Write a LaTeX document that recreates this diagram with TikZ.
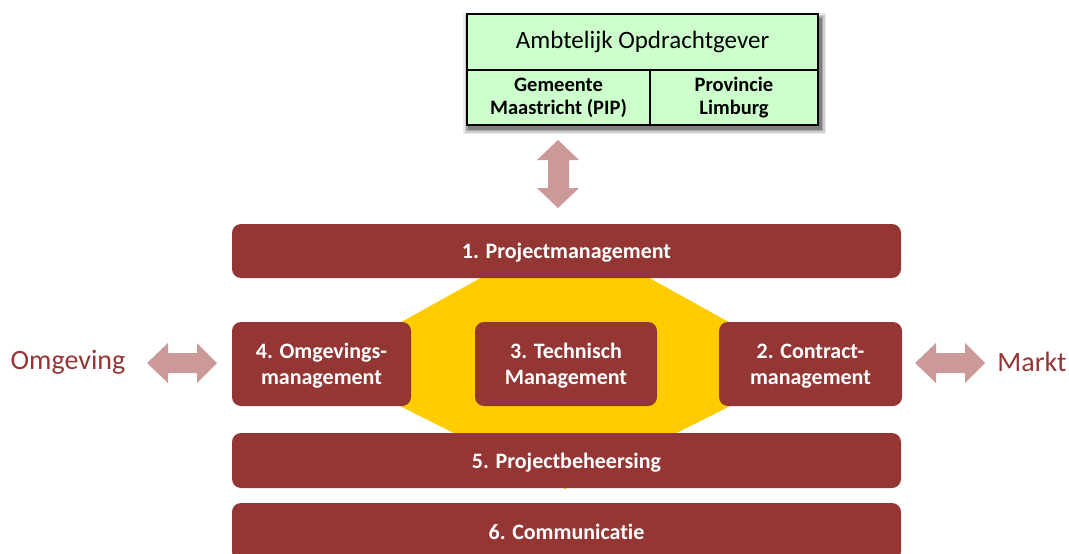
\documentclass[tikz,border=0pt]{standalone}
\usepackage{fontspec}
\setmainfont{Carlito}[Ligatures=NoCommon]
\definecolor{boxred}{RGB}{148,54,52}
\definecolor{arrowpink}{RGB}{204,153,153}
\definecolor{palegreen}{RGB}{204,255,204}
\definecolor{hexyellow}{RGB}{255,204,0}

\begin{document}
\begin{tikzpicture}[x=1pt,y=1pt,yscale=-1,
  redbox/.style={fill=boxred, rounded corners=9pt, text=white, align=center, inner sep=0pt,
    text depth=0pt, font=\bfseries\fontsize{22}{26}\selectfont},
  greencell/.style={fill=palegreen, draw=black, line width=1.6pt, align=center, inner sep=0pt,
    font=\bfseries\fontsize{20.5}{23}\selectfont},
  sidelabel/.style={text=boxred, font=\fontsize{28}{32}\selectfont, inner sep=0pt}]
\useasboundingbox (0,0) rectangle (1069,554);
\clip (0,0) rectangle (1069,554);

%Shape: yellow hexagon behind the boxes
\fill [hexyellow] (565,231) -- (770,345) -- (770,386) -- (565,489) -- (360,386) -- (360,345) -- cycle;

%Shadow of the opdrachtgever box
\foreach \s/\o in {6/0.08,4.5/0.12,3/0.18,1.5/0.25}
  \fill [black,opacity=\o] (467-\s+2,14-\s+5) rectangle (818+\s+2,125+\s+3);

% Opdrachtgever box
\node [greencell, minimum width=351pt, minimum height=56pt,
  font=\fontsize{25}{28}\selectfont] (opdracht) at (642.5,42) {Ambtelijk Opdrachtgever};
\node [greencell, minimum width=183pt, minimum height=55pt] (gemeente) at (558.5,97.5) {Gemeente\\Maastricht (PIP)};
\node [greencell, minimum width=168pt, minimum height=55pt] (provincie) at (734,97.5) {Provincie\\Limburg};

% Red bars and boxes
\node [redbox, minimum width=669pt, minimum height=54pt] (pm) at (566.5,251) {1. Projectmanagement};
\node [redbox, minimum width=179pt, minimum height=84pt] (om) at (321.5,364) {4. Omgevings-\\management};
\node [redbox, minimum width=182pt, minimum height=84pt] (tm) at (566,364) {3. Technisch\\Management};
\node [redbox, minimum width=183pt, minimum height=84pt] (cm) at (810.5,364) {2. Contract-\\management};
\node [redbox, minimum width=669pt, minimum height=55pt] (pb) at (566.5,460.5) {5. Projectbeheersing};
\node [redbox, minimum width=669pt, minimum height=58pt] (com) at (566.5,532) {6. Communicatie};

% Side labels
\node [sidelabel] (omgeving) at (68,362) {Omgeving};
\node [sidelabel] (markt) at (1032,362) {Markt};

%Shape: vertical double arrow
\fill [arrowpink] (558,140) -- (579,160) -- (569,160) -- (569,188) -- (579,188) -- (558,208)
  -- (537,188) -- (548,188) -- (548,160) -- (537,160) -- cycle;
%Shape: left double arrow
\fill [arrowpink] (147,363) -- (168,343) -- (168,353) -- (197,353) -- (197,343) -- (217,363)
  -- (197,383) -- (197,373) -- (168,373) -- (168,383) -- cycle;
%Shape: right double arrow
\fill [arrowpink] (915,363) -- (936,343) -- (936,353) -- (965,353) -- (965,343) -- (985,363)
  -- (965,383) -- (965,373) -- (936,373) -- (936,383) -- cycle;

\end{tikzpicture}
\end{document}
